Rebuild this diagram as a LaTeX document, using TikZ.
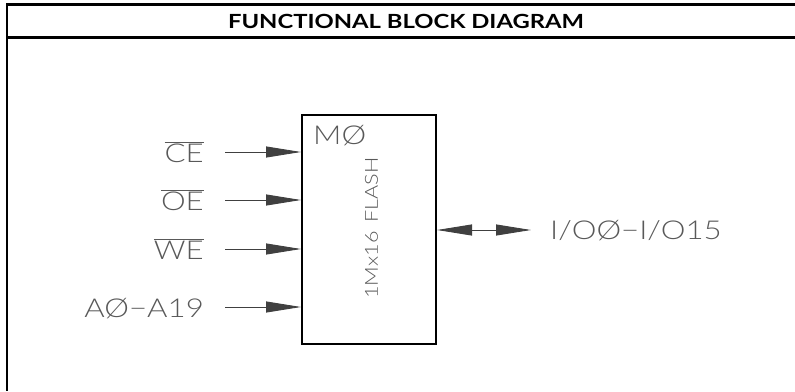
\documentclass[tikz,border=0pt]{standalone}
\usepackage{graphicx}
\usepackage{fontspec}
\setmainfont{Lato}
\newfontfamily\cadfont{Lato Light}[FakeStretch=1.2, Numbers=Monospaced]
\usetikzlibrary{arrows.meta,positioning}

\tikzset{
  cad/.style={font=\cadfont\fontsize{26}{30}\selectfont, text=black!65, inner sep=0pt},
  sig/.style={draw=black!75, line width=0.9pt, -{Triangle[length=35pt,width=11pt]}},
  frameline/.style={line width=2.2pt}
}

\begin{document}
\begin{tikzpicture}[x=1pt,y=-1pt]
    \useasboundingbox (0,0) rectangle (795,391);

    % table frame and heading
    \draw[frameline] (795,4.5) -- (7,4.5) -- (7,391);
    \draw[frameline] (7,37.5) -- (795,37.5);
    \node (title) at (406,21) {\bfseries\fontsize{19.5}{22}\selectfont\scalebox{1.22}[1]{FUNCTIONAL BLOCK DIAGRAM}};

    % memory block
    \node[draw, line width=2pt, minimum width=134pt, minimum height=229pt, inner sep=0pt] (flash) at (369,229.5) {};
    \node[cad, anchor=north west] (m0) at (313,125) {MØ};
    \node[cad, font=\cadfont\fontsize{18}{20}\selectfont, rotate=90] (type) at (371.5,228) {1Mx16\enspace FLASH};

    % inputs
    \foreach \n/\t/\y in {ce/{$\overline{\mbox{CE}}$}/152, oe/{$\overline{\mbox{OE}}$}/200,
                          we/{$\overline{\mbox{WE}}$}/249, addr/{AØ−A19}/307}{
      \node[cad, anchor=base east] (\n) at (204,\y+10) {\t};
      \coordinate (\n in) at (225,\y);
      \draw[sig] (\n in) -- (\n in -| flash.west);
    }

    % data bus
    \coordinate (io end) at (531,230);
    \draw[sig, {Triangle[length=35pt,width=11pt]}-{Triangle[length=35pt,width=11pt]}] (flash.east |- io end) -- (io end);
    \node[cad, anchor=base west] (io) at (550,239.5) {I/OØ−I/O15};
\end{tikzpicture}
\end{document}
